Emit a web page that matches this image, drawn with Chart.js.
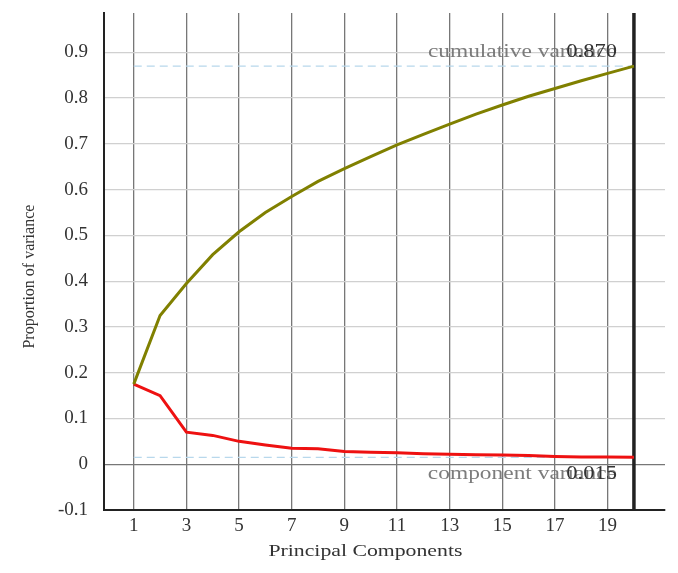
<!DOCTYPE html>
<html lang="en">
<head>
  <meta charset="UTF-8">
  <title>Principal Components</title>
  <script src="https://cdn.jsdelivr.net/npm/chart.js@4"></script>
  <style>
    html, body { margin: 0; padding: 0; background: #fff; }
    #wrap { width: 678px; height: 573px; }
  </style>
</head>
<body>
<div id="wrap"><canvas id="chart" width="678" height="573"></canvas></div>
<script>
  // data
  const components = [1, 2, 3, 4, 5, 6, 7, 8, 9, 10, 11, 12, 13, 14, 15, 16, 17, 18, 19, 20];
  const cumulative = [0.175, 0.325, 0.395, 0.458, 0.508, 0.550, 0.585, 0.618, 0.646, 0.672,
                      0.698, 0.721, 0.743, 0.765, 0.785, 0.804, 0.821, 0.838, 0.854, 0.870];
  const componentVar = [0.175, 0.150, 0.070, 0.063, 0.050, 0.042, 0.035, 0.034, 0.028, 0.026,
                        0.025, 0.023, 0.022, 0.021, 0.020, 0.019, 0.017, 0.016, 0.016, 0.015];
  const xTicks = [1, 3, 5, 7, 9, 11, 13, 15, 17, 19];
  const cumTotal = 0.870;
  const lastComp = 0.015;

  const serif = "'Liberation Serif', 'DejaVu Serif', serif";
  const first = components[0];
  const last = components[components.length - 1];

  const pts = (ys) => components.map((x, i) => ({ x, y: ys[i] }));

  // the reference text is a little wider than the font, so stretch it sideways
  function wideText(ctx, text, x, y, align, stretch) {
    ctx.save();
    ctx.translate(x, y);
    ctx.scale(stretch, 1);
    ctx.textAlign = align;
    ctx.fillText(text, 0, 0);
    ctx.restore();
  }

  // text labels next to the dashed reference lines, and both axis titles
  const refLabels = {
    id: 'refLabels',
    afterDatasetsDraw(chart) {
      const { ctx, scales: { x, y }, chartArea } = chart;
      const rx = x.getPixelForValue(last) - 17;
      ctx.save();
      ctx.font = '18px ' + serif;
      ctx.textBaseline = 'middle';
      ctx.fillStyle = 'rgba(110,110,110,0.9)';
      wideText(ctx, 'cumulative variance', rx, y.getPixelForValue(cumTotal) - 14, 'right', 1.3);
      wideText(ctx, 'component variance', rx, y.getPixelForValue(lastComp) + 17, 'right', 1.3);
      ctx.fillStyle = '#333';
      wideText(ctx, cumTotal.toFixed(3), rx, y.getPixelForValue(cumTotal) - 14, 'right', 1.25);
      wideText(ctx, lastComp.toFixed(3), rx, y.getPixelForValue(lastComp) + 17, 'right', 1.25);
      ctx.font = '17px ' + serif;
      wideText(ctx, 'Principal Components', x.getPixelForValue(9.8), chartArea.bottom + 42, 'center', 1.28);
      // y title, rotated
      ctx.font = '16px ' + serif;
      ctx.translate(30, y.getPixelForValue(0.41));
      ctx.rotate(-Math.PI / 2);
      ctx.textAlign = 'center';
      ctx.fillText('Proportion of variance', 0, 0);
      ctx.restore();
    }
  };

  new Chart(document.getElementById('chart'), {
    type: 'line',
    data: {
      datasets: [
        { data: pts(cumulative), borderColor: '#808000', borderWidth: 3, pointRadius: 0 },
        { data: pts(componentVar), borderColor: '#ee1111', borderWidth: 3, pointRadius: 0 },
        { data: [{ x: first, y: cumTotal }, { x: last, y: cumTotal }],
          borderColor: '#b8d8ec', borderWidth: 1.3, borderDash: [8, 5], pointRadius: 0 },
        { data: [{ x: first, y: lastComp }, { x: last, y: lastComp }],
          borderColor: '#b8d8ec', borderWidth: 1.3, borderDash: [8, 5], pointRadius: 0 },
        { data: [{ x: last, y: -0.1 }, { x: last, y: 0.986 }],
          borderColor: '#222', borderWidth: 3.5, pointRadius: 0 }
      ]
    },
    options: {
      responsive: false,
      animation: false,
      layout: { padding: { top: 13, right: 13, left: 22, bottom: 6 } },
      plugins: { legend: { display: false }, tooltip: { enabled: false } },
      scales: {
        x: {
          type: 'linear',
          min: -0.13,
          max: 21.18,
          afterBuildTicks: (s) => { s.ticks = xTicks.map(v => ({ value: v })); },
          afterFit: (s) => { s.height = 57; s.paddingLeft = 0; s.paddingRight = 0; },
          grid: { color: '#777', lineWidth: 1.3, drawTicks: false },
          border: { color: '#222', width: 2 },
          ticks: { font: { family: serif, size: 19 }, color: '#333', padding: 5,
                   callback: (v) => String(v), maxRotation: 0, autoSkip: false }
        },
        y: {
          min: -0.1,
          max: 0.986,
          afterFit: (s) => { s.width = 82; s.paddingTop = 0; s.paddingBottom = 0; },
          grid: {
            color: (c) => Math.abs(c.tick.value) < 1e-9 ? '#777' : '#d0d0d0',
            lineWidth: 1.3, drawTicks: false
          },
          border: { color: '#222', width: 2 },
          ticks: { stepSize: 0.1, includeBounds: false, font: { family: serif, size: 19 }, color: '#333', padding: 16,
                   callback: (v) => Math.abs(v) < 1e-9 ? '0' : v.toFixed(1) }
        }
      }
    },
    plugins: [refLabels]
  });
</script>
</body>
</html>
